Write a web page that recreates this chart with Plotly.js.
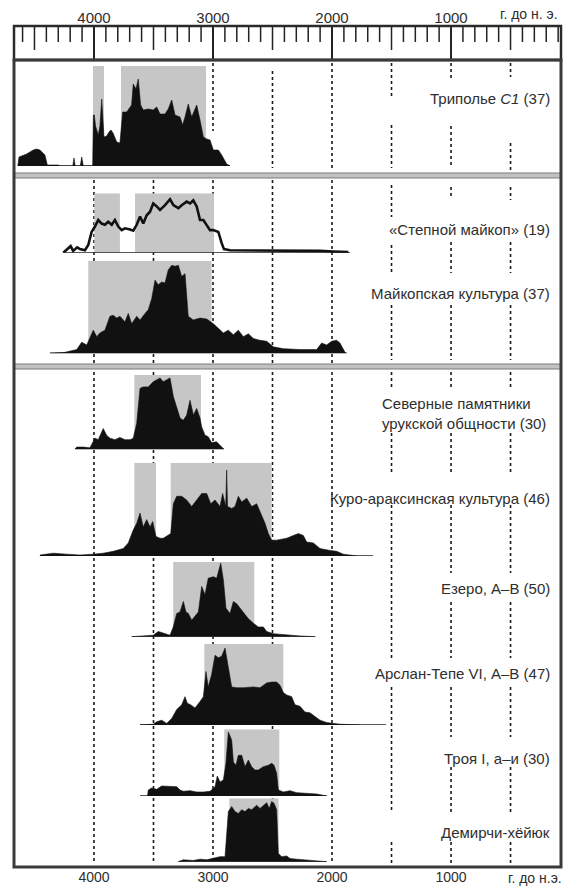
<!DOCTYPE html>
<html><head><meta charset="utf-8">
<script src="https://cdn.plot.ly/plotly-3.0.1.min.js"></script>
<style>html,body{margin:0;padding:0;background:#fff}#chart{width:568px;height:887px}</style>
</head><body><div id="chart"></div>
<script>
// ---------- DATA (years BC, relative probability 0-100 of panel height) ----------
const tickYears = [4000, 3000, 2000, 1000];
const tickLabels = ['4000', '3000', '2000', '1000'];
const unitTop = 'г. до н. э.';
const unitBottom = 'г. до н.э.';

const panelLabels = [
  'Триполье <i>C1</i> (37)',
  '«Степной майкоп» (19)',
  'Майкопская культура (37)',
  'Северные памятники<br>урукской общности (30)',
  'Куро-араксинская культура (46)',
  'Езеро, А–В (50)',
  'Арслан-Тепе VI, А–В (47)',
  'Троя I, а–и (30)',
  'Демирчи-хёйюк'
];

const tripYears = [4640,4630,4566,4510,4482,4454,4412,4400,4392,4300,4286,4178,4168,4158,4115,4103,4090,4011,4005,3997,3987,3964,3950,3935,3924,3916,3893,3874,3857,3840,3809,3782,3759,3725,3684,3670,3647,3628,3608,3586,3544,3502,3473,3445,3403,3376,3347,3319,3277,3255,3235,3208,3179,3137,3109,3081,3053,3025,2997,2955,2927,2885,2857];
const tripVals  = [0,9,12,16,17,16,11,3,1,1,0,0,8,0,0,9,0,0,51,51,40,31,40,67,40,29,30,34,36,33,24,23,54,54,61,82,77,87,61,56,57,56,59,52,52,57,66,51,49,41,49,62,49,61,46,29,27,26,16,16,11,2,0];

const stepYears = [4258,4216,4196,4175,4141,4118,4076,4048,4020,3992,3964,3936,3908,3880,3851,3824,3796,3767,3740,3697,3670,3641,3613,3586,3557,3529,3502,3473,3445,3403,3361,3333,3291,3263,3221,3193,3166,3137,3109,3081,3053,3025,2997,2955,2927,2908,2857,2549,2269,2101,1989,1863];
const stepVals  = [0,7,11,3,9,6,4,13,35,44,55,49,47,52,47,55,44,38,41,39,37,47,61,49,63,69,83,78,72,80,90,80,75,80,86,83,88,78,55,55,47,38,38,35,16,6,4,4,3,3,2,1];

const maikYears = [4370,4244,4145,4103,4061,4034,4006,3977,3950,3908,3866,3838,3809,3782,3740,3712,3683,3641,3613,3571,3544,3515,3487,3460,3431,3403,3376,3347,3319,3291,3263,3235,3208,3166,3109,3053,2997,2955,2913,2871,2829,2787,2745,2703,2661,2605,2549,2493,2409,2269,2129,2087,2045,2003,1961,1933,1891,1877];
const maikVals  = [0,1,4,12,9,16,25,18,22,25,40,41,38,40,34,43,32,40,36,43,47,59,79,74,77,76,90,95,94,95,83,86,40,36,38,37,32,27,22,25,20,25,18,21,16,14,13,7,5,4,4,11,9,13,14,11,1,0];

const urukYears = [4160,4145,4090,4034,3992,3964,3922,3894,3866,3824,3782,3740,3697,3670,3641,3613,3586,3544,3502,3473,3445,3418,3390,3361,3333,3305,3277,3249,3221,3193,3165,3137,3109,3095,3067,3040,3012,2970,2927,2908];
const urukVals  = [0,3,3,2,15,13,28,19,15,13,16,13,13,15,35,82,84,84,91,93,96,91,93,96,71,57,42,39,46,66,46,55,42,30,19,17,9,10,3,0];

const kuraYears = [4454,4342,4230,4118,4006,3922,3838,3754,3712,3670,3641,3613,3586,3557,3529,3507,3479,3445,3418,3390,3355,3333,3305,3263,3221,3179,3137,3095,3053,3019,2983,2941,2919,2899,2893,2885,2878,2843,2815,2787,2759,2717,2675,2633,2591,2563,2535,2507,2465,2381,2325,2283,2241,2213,2157,2101,2017,1961,1905,1821,1793];
const kuraVals  = [1,3,2,1,2,3,5,8,14,28,35,46,31,39,31,37,21,19,19,21,24,56,64,64,60,53,60,67,67,56,60,53,67,53,53,92,53,51,53,64,58,62,53,56,44,35,24,17,17,19,22,24,22,15,14,8,6,5,2,1,0];

const ezerYears = [3683,3586,3502,3460,3403,3361,3334,3305,3277,3249,3227,3207,3179,3151,3123,3095,3067,3040,2997,2969,2935,2913,2891,2857,2829,2801,2773,2745,2703,2661,2619,2577,2549,2493,2381,2269,2143];
const ezerVals  = [0,1,2,7,4,2,13,31,33,47,33,31,22,27,33,67,56,78,80,78,98,76,38,31,47,44,38,33,24,18,13,13,7,4,2,1,0];

const arslYears = [3613,3502,3473,3431,3389,3347,3305,3263,3235,3216,3188,3151,3109,3081,3059,3040,3012,2983,2955,2927,2899,2871,2843,2801,2745,2661,2605,2549,2507,2465,2437,2409,2381,2339,2311,2269,2227,2185,2143,2101,2045,2003,1933,1765];
const arslVals  = [0,1,4,6,2,8,19,25,35,27,25,21,29,35,66,47,62,86,83,85,95,72,47,46,46,47,46,52,53,53,49,40,37,35,25,23,16,15,10,6,3,2,1,0];

const troyYears = [3550,3544,3515,3473,3431,3389,3347,3305,3277,3249,3193,3137,3081,3025,2983,2964,2941,2913,2891,2871,2843,2829,2807,2787,2759,2731,2703,2675,2647,2619,2577,2535,2507,2487,2465,2451,2409,2353,2297,2213,2129,2045];
const troyVals  = [0,9,12,10,15,15,15,14,9,7,8,6,6,7,14,30,21,24,49,96,84,51,46,61,61,44,54,44,39,39,44,46,49,46,34,9,6,8,5,4,3,0];

const demiYears = [3292,3250,3166,3109,3053,2997,2941,2899,2871,2843,2815,2787,2759,2731,2703,2675,2633,2605,2577,2549,2527,2507,2487,2465,2451,2423,2381,2353,2297,2241,2157,2045];
const demiVals  = [0,3,2,4,3,5,8,8,79,87,79,76,82,79,84,82,89,84,89,93,84,95,92,82,13,8,9,5,4,3,2,0];

// highlighted (grey) intervals, years BC
const tripBoxes = [[4008,3916],[3773,3059]];
const stepBoxes = [[3997,3782],[3655,2992]];
const maikBoxes = [[4048,3012]];
const urukBoxes = [[3661,3101]];
const kuraBoxes = [[3661,3479],[3355,2507]];
const ezerBoxes = [[3334,2653]];
const arslBoxes = [[3073,2409]];
const troyBoxes = [[2905,2443]];
const demiBoxes = [[2863,2449]];

// extent of each baseline, years BC
const baseExtents = [[4640,2857],[4258,1850],[4370,1877],[4160,2908],[4454,1655],[3683,2139],[3613,1546],[3613,2045],[3292,2045]];

// reference lines
const refYears = [4000,3500,3000,2500,2000,1500,1000,500];
const rulerYears = [];
for (let y = 4600; y >= 100; y -= 100) rulerYears.push(y);

// ---------- LAYOUT GEOMETRY (pixels) ----------
const W = 568, HT = 887;
const ML = 14, MR = 7, MT = 26, MB = 20;
const BOTTOM = HT - MB, PH = HT - MT - MB, PW = W - ML - MR;
const py = y => (BOTTOM - y) / PH;
const px = x => (x - ML) / PW;
const FRAME_TOP = 60;
const panelPix = [[166,66],[252.7,193.3],[353.3,260.7],[449.3,375],[556,462.7],[636.7,561.7],[725,644],[796,729.3],[861.7,798.3]];
const labelY = [98,230,293,413,498,588,673,758,832];
const refSegs = {
  4000: [[66,166],[180,862]],
  3500: [[66,166],[180,862]],
  3000: [[63,131],[180,862]],
  2500: [[71,168],[180,862]],
  2000: [[63,168],[180,862]],
  1500: [[63,98],[125,168],[185,217],[245,273],[305,360],[372,390],[433,475],[505,658],[687,813],[842,863]],
  1000: [[63,78],[126,168],[187,198],[242,273],[305,360],[372,390],[433,475],[505,573],[602,658],[687,737],[767,813],[842,863]],
  500:  [[63,77],[143,170],[187,200],[242,273],[305,360],[372,390],[433,475],[505,573],[602,658],[687,737],[767,813],[842,863]]
};

const series = [
  [tripYears, tripVals, tripBoxes],
  [stepYears, stepVals, stepBoxes],
  [maikYears, maikVals, maikBoxes],
  [urukYears, urukVals, urukBoxes],
  [kuraYears, kuraVals, kuraBoxes],
  [ezerYears, ezerVals, ezerBoxes],
  [arslYears, arslVals, arslBoxes],
  [troyYears, troyVals, troyBoxes],
  [demiYears, demiVals, demiBoxes]
];

const XR = [4672, 76];
const FONT = 'Liberation Sans, Arial, sans-serif';
const TXT = '#2e2e2e';
const INK = '#111111';

const traces = [];
const shapes = [];
const annotations = [];
const layout = {
  width: W, height: HT,
  margin: {l: ML, r: MR, t: MT, b: MB, pad: 0},
  paper_bgcolor: '#fff', plot_bgcolor: '#fff',
  showlegend: false,
  font: {family: FONT, color: TXT},
  xaxis: {range: XR, anchor: 'free', position: 0, showgrid: false, zeroline: false, showline: false,
          tickmode: 'array', tickvals: tickYears, ticktext: tickLabels, ticks: '',
          tickfont: {size: 14, color: TXT, family: FONT}, fixedrange: true},
  xaxis2: {range: XR, overlaying: 'x', side: 'top', anchor: 'free', position: 1, showgrid: false, zeroline: false,
           showline: false, tickmode: 'array', tickvals: tickYears, ticktext: tickLabels, ticks: '',
           tickfont: {size: 15, color: TXT, family: FONT}, fixedrange: true}
};

// grey intervals first (below everything)
series.forEach((s, i) => {
  const yref = i === 0 ? 'y' : 'y' + (i + 1);
  layout[i === 0 ? 'yaxis' : 'yaxis' + (i + 1)] = {
    domain: [py(panelPix[i][0]), py(panelPix[i][1])], range: [0, 100], visible: false, fixedrange: true, anchor: 'x'
  };
  s[2].forEach(b => shapes.push({type: 'rect', xref: 'x', yref: yref, x0: b[0], x1: b[1], y0: 0, y1: 100,
    fillcolor: '#c6c6c6', line: {width: 0}, layer: 'below'}));
});

// dotted reference lines
refYears.forEach(yr => {
  refSegs[yr].forEach(seg => shapes.push({type: 'line', xref: 'x', yref: 'paper', x0: yr, x1: yr,
    y0: py(seg[0]), y1: py(seg[1]), line: {color: '#1a1a1a', width: 1.6, dash: 'dot'}, layer: 'below'}));
});

// distributions
series.forEach((s, i) => {
  const yref = i === 0 ? 'y' : 'y' + (i + 1);
  traces.push({x: baseExtents[i], y: [0, 0], xaxis: 'x', yaxis: yref, mode: 'lines',
    line: {color: '#222', width: 1.5}, hoverinfo: 'skip'});
  if (i === 1) {
    traces.push({x: s[0], y: s[1], xaxis: 'x', yaxis: yref, mode: 'lines',
      line: {color: INK, width: 2.6, shape: 'linear'}, hoverinfo: 'skip'});
  } else {
    traces.push({x: s[0], y: s[1], xaxis: 'x', yaxis: yref, mode: 'lines', fill: 'tozeroy',
      fillcolor: INK, line: {color: INK, width: 0.6}, hoverinfo: 'skip'});
  }
  const lab = panelLabels[i];
  if (i === 3) {
    annotations.push({xref: 'paper', yref: 'paper', x: px(380), y: py(labelY[i]), xanchor: 'left', yanchor: 'middle',
      align: 'left', text: lab, showarrow: false, font: {size: 15, color: TXT, family: FONT}});
  } else {
    annotations.push({xref: 'paper', yref: 'paper', x: px(552), y: py(labelY[i]), xanchor: 'right', yanchor: 'middle',
      text: lab, showarrow: false, font: {size: 15, color: TXT, family: FONT}});
  }
});
// dummy trace so the top axis is drawn
traces.push({x: [tickYears[0]], y: [0], xaxis: 'x2', yaxis: 'y', mode: 'markers', marker: {opacity: 0}, hoverinfo: 'skip'});

// separators between groups
[[173,178],[364,369]].forEach(s => shapes.push({type: 'rect', xref: 'paper', yref: 'paper', x0: 0, x1: 1,
  y0: py(s[1]), y1: py(s[0]), fillcolor: '#c2c2c2', line: {color: '#7a7a7a', width: 1}, layer: 'above'}));

// ruler ticks
rulerYears.forEach(yr => {
  const len = yr % 1000 === 0 ? (FRAME_TOP - MT) : (yr % 500 === 0 ? 24 : 16);
  shapes.push({type: 'line', xref: 'x', yref: 'paper', x0: yr, x1: yr, y0: 1, y1: py(MT + len),
    line: {color: '#222', width: yr % 1000 === 0 ? 2 : 1.5}, layer: 'above'});
});
// ruler box
shapes.push({type: 'rect', xref: 'paper', yref: 'paper', x0: 0, x1: 1, y0: py(FRAME_TOP), y1: 1,
  line: {color: '#2a2a2a', width: 2.5}, layer: 'above'});
// main frame
shapes.push({type: 'rect', xref: 'paper', yref: 'paper', x0: 0, x1: 1, y0: 0, y1: py(FRAME_TOP),
  line: {color: '#3a3a3a', width: 3}, layer: 'above'});

// units
annotations.push({xref: 'paper', yref: 'paper', x: px(560), y: 1, yshift: 12, xanchor: 'right', yanchor: 'middle',
  text: unitTop, showarrow: false, font: {size: 14, color: TXT, family: FONT}});
annotations.push({xref: 'paper', yref: 'paper', x: px(564), y: 0, yshift: -11, xanchor: 'right', yanchor: 'middle',
  text: unitBottom, showarrow: false, font: {size: 14, color: TXT, family: FONT}});

layout.shapes = shapes;
layout.annotations = annotations;

Plotly.newPlot('chart', traces, layout, {staticPlot: true, displayModeBar: false});
</script>
</body></html>
